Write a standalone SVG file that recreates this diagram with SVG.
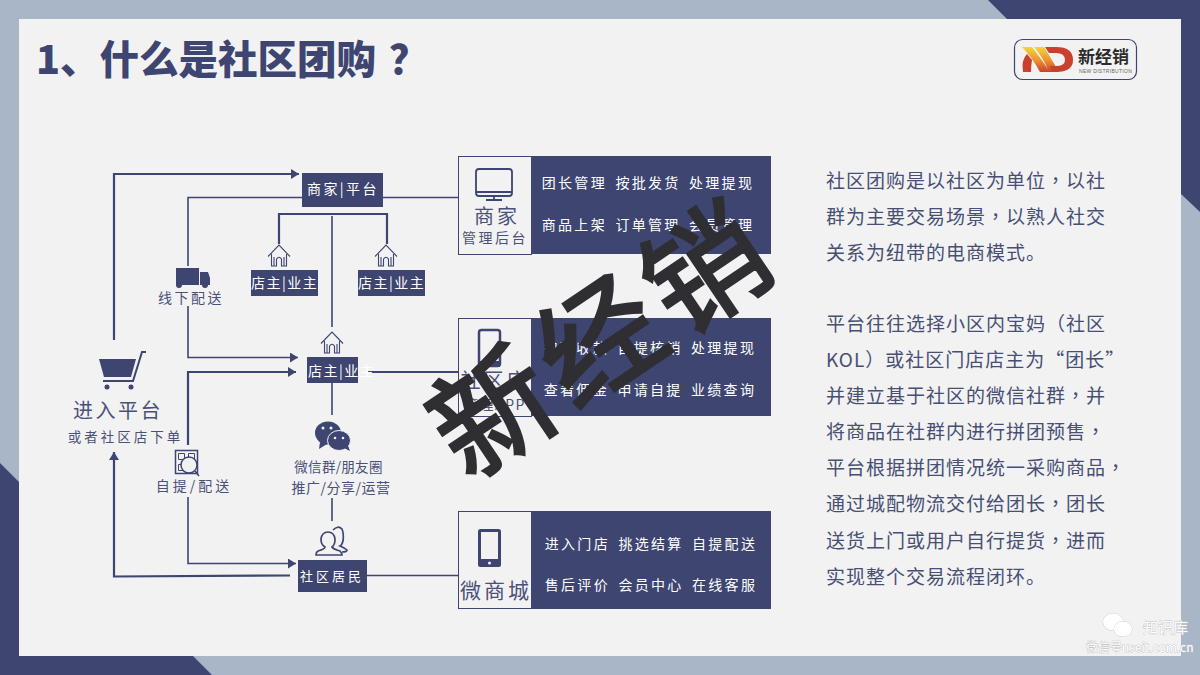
<svg xmlns="http://www.w3.org/2000/svg" width="1200" height="675" viewBox="0 0 1200 675">
<defs>
<marker id="ah" markerUnits="userSpaceOnUse" markerWidth="9" markerHeight="12" refX="8" refY="5" orient="auto"><path d="M0 0L8 5L0 10Z" fill="#3d4570"/></marker>
<linearGradient id="gr" x1="0" y1="0" x2="0" y2="1"><stop offset="0" stop-color="#f5d538"/><stop offset="0.55" stop-color="#ec8f30"/><stop offset="1" stop-color="#c9402c"/></linearGradient>
<g id="house" fill="none" stroke="#3d4570" stroke-width="1.100"><path d="M-11 8.500L0 -3L11 8.500M-7.500 6V18H-2.500V11Q0 7.500 2.500 11V18H7.500V6M-5 9V18M5 9V18"/></g>
</defs>
<style>
text{font-family:"Noto Sans CJK SC","Liberation Sans",sans-serif}
.nb{fill:#3d4570}
.lbl{fill:#fff;font-size:14px;letter-spacing:1.500px}
.cap{fill:#4a5178;font-size:14px;text-anchor:middle}
.big{fill:#4a5178;font-size:20px;text-anchor:middle}
.cell{fill:#fff;font-size:14px;text-anchor:middle;letter-spacing:2.300px;word-spacing:3px}
.body{fill:#474f74;font-size:19px;letter-spacing:1px}
.tc{font-family:"Noto Sans CJK TC",sans-serif}
.c1{fill:none;stroke:#3d4570;stroke-width:1.600}
.c2{fill:none;stroke:#3d4570;stroke-width:2.200}
.wm{fill:#fff;stroke:#c4c4c8;stroke-width:0.800px;paint-order:stroke}
</style>
<rect width="1200" height="675" fill="#a9b6c8"/>
<path d="M988 0H1200V212L1181 194V19H1007Z" fill="#3d4570"/>
<path d="M0 463L19 482V656H193L212 675H0Z" fill="#3d4570"/>
<rect x="19" y="19" width="1162" height="637" fill="#f2f2f3"/>
<text x="36" y="74" font-size="39.500" font-weight="900" fill="#3d4570">1、什么是社区团购<tspan x="389">？</tspan></text>
<g id="logo">
<rect x="1014.500" y="39.500" width="122" height="40" rx="8" fill="#f2f2f3" stroke="#3d4570" stroke-width="1.200"/>
<path d="M1023 72Q1021 60 1027 54L1032 60Q1031 66 1031 72Z" fill="#c9402c"/>
<path d="M1022 47H1032Q1042 60 1050 72H1040Q1032 57 1022 47Z" fill="url(#gr)"/>
<path d="M1034 47H1044Q1052 60 1059 72H1049Q1043 57 1034 47Z" fill="url(#gr)"/>
<path d="M1045 47H1056Q1073 47 1073 60Q1073 72 1056 72H1052L1050 66H1056Q1065 66 1065 60Q1065 53 1056 53H1049Z" fill="#c9402c"/>
<text x="1078" y="63" font-size="17" font-weight="700" fill="#2b2b2b">新经销</text>
<text x="1079" y="73" font-size="5" fill="#666" letter-spacing="0.300" style="font-family:'Liberation Sans',sans-serif">NEW DISTRIBUTION</text>
</g>
<g id="connectors">
<path class="c2" d="M114 340V174H299" marker-end="url(#ah)"/>
<path class="c1" d="M188 266V197.500H302"/>
<path class="c1" d="M188 306V357.500H298" marker-end="url(#ah)"/>
<path class="c2" d="M188 445V372H296" marker-end="url(#ah)"/>
<path class="c1" d="M188 497V563.500H296" marker-end="url(#ah)"/>
<path class="c2" d="M290 575.500L114 576.500V452" marker-end="url(#ah)"/>
<path class="c2" d="M279 244V214H387V244"/>
<path class="c1" d="M332 216V327"/>
<path class="c1" d="M332 383V415"/>
<path class="c1" d="M332 498V521"/>
<path class="c1" d="M383 197.500H459"/>
<path class="c2" d="M368 372H459"/>
<path class="c1" d="M367 575.500H459"/>
</g>
<g id="n-platform"><rect class="nb" x="302" y="173" width="81" height="34"/><text class="lbl" x="307" y="194" style="letter-spacing:2.400px">商家|平台</text></g>
<g id="n-owner1"><use href="#house" x="279" y="248"/><rect class="nb" x="251" y="270" width="67" height="26"/><text class="lbl" x="251" y="288">店主|业主</text></g>
<g id="n-owner2"><use href="#house" x="386" y="248"/><rect class="nb" x="358" y="270" width="67" height="26"/><text class="lbl" x="358" y="288">店主|业主</text></g>
<g id="n-owner3"><use href="#house" x="332" y="335"/><rect class="nb" x="307" y="357" width="51" height="26"/><text class="lbl" x="308" y="376">店主|业主</text></g>
<g id="n-residents"><rect class="nb" x="298" y="560" width="69" height="32"/><text class="lbl" x="300" y="581" style="font-size:13px;letter-spacing:3px">社区居民</text>
<path d="M328 532Q334 532 335 539Q335 545 332 547Q333 549 340 551Q342 553 342 555H316Q316 552 318 551Q325 549 325 547Q321 545 321 539Q322 532 328 532Z" fill="none" stroke="#3d4570" stroke-width="1.700"/><path d="M333 530Q338 525 342 529Q344 534 343 541Q342 545 340 546Q345 548 347 550Q347 552 342 552" fill="none" stroke="#3d4570" stroke-width="1.700"/></g>
<g id="n-truck"><path class="nb" d="M176 268H199V285H176Z"/><path class="nb" d="M200 272H208L210 278V285H200Z"/><circle cx="179" cy="285" r="3" fill="#3d4570"/><circle cx="205" cy="285" r="3" fill="#3d4570"/><text class="cap" x="191" y="303" letter-spacing="2.500">线下配送</text></g>
<g id="n-cart"><path class="nb" d="M99 359H136L131 377H104Z"/><path d="M146 352H142L133 381H103" fill="none" stroke="#3d4570" stroke-width="2"/><circle cx="107" cy="387" r="2.500" fill="#3d4570"/><circle cx="131" cy="387" r="2.500" fill="#3d4570"/><text class="big" x="118" y="418" letter-spacing="2.500">进入平台</text><text class="cap" x="125.500" y="442" style="font-size:13.500px" letter-spacing="3">或者社区店下单</text></g>
<g id="n-qr"><rect x="175.500" y="450.500" width="22" height="23" fill="none" stroke="#3d4570" stroke-width="1.500"/><path d="M178.500 453.500h6v6h-6zM188.500 453.500h6v6h-6zM178.500 464.500h6v6h-6z" fill="none" stroke="#3d4570"/><circle cx="189" cy="465" r="8" fill="#f2f2f3" stroke="#3d4570" stroke-width="1.500"/><path d="M195 471L199 476" stroke="#3d4570" stroke-width="1.500"/><text class="cap" x="194" y="491" letter-spacing="3">自提/配送</text></g>
<g id="n-wechat"><ellipse cx="328" cy="433" rx="13" ry="11.500" class="nb"/><path class="nb" d="M320 442L319 449L327 444Z"/><ellipse cx="339" cy="440.500" rx="11.500" ry="10" class="nb" stroke="#f2f2f3"/><path class="nb" d="M344 448L350 451L347 443Z"/><g fill="#f2f2f3"><circle cx="323" cy="428" r="1.500"/><circle cx="331" cy="428" r="1.500"/><circle cx="335" cy="438" r="1.300"/><circle cx="343" cy="438" r="1.300"/></g><text class="cap" x="338.500" y="472" letter-spacing="0.300" style="font-size:13.500px">微信群/朋友圈</text><text class="cap" x="341" y="493" letter-spacing="0.500">推广/分享/运营</text></g>
<g id="n-merchant"><rect x="458.500" y="156.500" width="73" height="98" fill="#f2f2f3" stroke="#3d4570"/><rect class="nb" x="531" y="156" width="240" height="98"/>
<rect x="476" y="169" width="36" height="27" rx="3" fill="none" stroke="#3d4570" stroke-width="1.800"/><path d="M476 192H512M494 196V200M486 200H502" fill="none" stroke="#3d4570" stroke-width="1.800"/>
<text class="big" x="497" y="224" letter-spacing="3">商家</text><text class="cap" x="495" y="243" letter-spacing="2.500">管理后台</text>
<text class="cell" x="648" y="188">团长管理 按批发货 处理提现</text><text class="cell" x="648" y="230">商品上架 订单管理 会员管理</text></g>
<g id="n-app"><rect x="458.500" y="318.500" width="73" height="98" fill="#f2f2f3" stroke="#3d4570"/><rect class="nb" x="531" y="318" width="240" height="98"/>
<rect x="479" y="330" width="21" height="36" rx="2.500" fill="none" stroke="#3d4570" stroke-width="2.500"/><rect class="nb" x="479" y="361" width="21" height="6"/><text class="big" x="495" y="388" letter-spacing="3">社区店</text><text class="cap" x="495" y="410" letter-spacing="1.500">管理APP</text>
<text class="cell" x="650" y="353">扫码收款 自提核销 处理提现</text><text class="cell" x="650" y="395">查看佣金 申请自提 业绩查询</text></g>
<g id="n-mall"><rect x="458.500" y="511.500" width="73" height="97" fill="#f2f2f3" stroke="#3d4570"/><rect class="nb" x="531" y="511" width="240" height="98"/>
<rect x="478" y="529" width="23" height="38" rx="2.500" class="nb"/><rect x="481" y="532" width="17" height="27" fill="#f2f2f3"/><circle cx="489.500" cy="563" r="1.500" fill="#f2f2f3"/><text class="big" x="496" y="598" letter-spacing="3" style="font-size:21px">微商城</text>
<text class="cell" x="651" y="549">进入门店 挑选结算 自提配送</text><text class="cell" x="651" y="590">售后评价 会员中心 在线客服</text></g>
<g id="body-text">
<text class="body" x="826" y="188">社区团购是以社区为单位<tspan class="tc">，</tspan>以社</text>
<text class="body" x="826" y="224">群为主要交易场景<tspan class="tc">，</tspan>以熟人社交</text>
<text class="body" x="826" y="260">关系为纽带的电商模式。</text>
<text class="body" x="826" y="331">平台往往选择小区内宝妈<tspan class="tc">（</tspan>社区</text>
<text class="body" x="826" y="367">KOL<tspan class="tc">）</tspan>或社区门店店主为“团长”</text>
<text class="body" x="826" y="403">并建立基于社区的微信社群<tspan class="tc">，</tspan>并</text>
<text class="body" x="826" y="439">将商品在社群内进行拼团预售<tspan class="tc">，</tspan></text>
<text class="body" x="826" y="475">平台根据拼团情况统一采购商品<tspan class="tc">，</tspan></text>
<text class="body" x="826" y="511">通过城配物流交付给团长<tspan class="tc">，</tspan>团长</text>
<text class="body" x="826" y="548">送货上门或用户自行提货<tspan class="tc">，</tspan>进而</text>
<text class="body" x="826" y="584">实现整个交易流程闭环。</text>
</g>
<text id="stamp" x="0" y="0" font-size="120" letter-spacing="8" fill="#2e2e33" stroke="#2e2e33" stroke-width="3" text-anchor="middle" transform="translate(627 375) rotate(-34)">新经销</text>
<g id="wm"><ellipse class="wm" cx="1113" cy="622" rx="10" ry="8.500"/><ellipse class="wm" cx="1123" cy="629" rx="9" ry="7.500"/><text class="wm" x="1143" y="633" font-size="15">知识库</text><text class="wm" x="1086" y="652" font-size="12">微信号useit.com.cn</text></g>
</svg>
